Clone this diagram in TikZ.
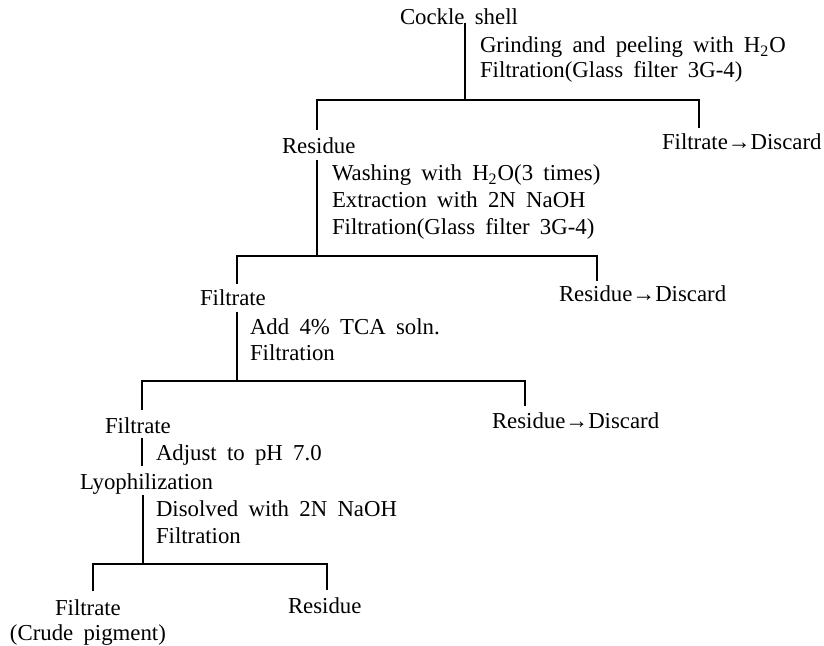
\documentclass[tikz,border=0pt]{standalone}
\usepackage{fontspec}
\setmainfont{Liberation Serif}[WordSpace=1.8]
\begin{document}
\begin{tikzpicture}[x=0.5pt,y=-0.5pt,
  lbl/.style={anchor=base west,inner sep=0pt,outer sep=0pt,font=\fontsize{11.4}{13}\selectfont},
  conn/.style={line width=0.6pt,line cap=butt,line join=miter}]
\useasboundingbox (0,0) rectangle (824,646);
% texts
\node[lbl] (cockle) at (400,25) {Cockle shell};
\node[lbl] (s1a) at (480,53) {Grinding and peeling with H\textsubscript{2}O};
\node[lbl] (s1b) at (480,78) {Filtration(Glass filter 3G-4)};
\node[lbl] (res1) at (282,154) {Residue};
\node[lbl] (fd1) at (662,150) {Filtrate→Discard};
\node[lbl] (s2a) at (332,181) {Washing with H\textsubscript{2}O(3 times)};
\node[lbl] (s2b) at (332,208) {Extraction with 2N NaOH};
\node[lbl] (s2c) at (332,235) {Filtration(Glass filter 3G-4)};
\node[lbl] (fil2) at (200,306) {Filtrate};
\node[lbl] (rd2) at (559,302) {Residue→Discard};
\node[lbl] (s3a) at (250,335) {Add 4\% TCA soln.};
\node[lbl] (s3b) at (250,361) {Filtration};
\node[lbl] (fil3) at (105,433) {Filtrate};
\node[lbl] (rd3) at (492,429) {Residue→Discard};
\node[lbl] (s4a) at (156,460) {Adjust to pH 7.0};
\node[lbl] (lyo) at (80,489) {Lyophilization};
\node[lbl] (s5a) at (156,516) {Disolved with 2N NaOH};
\node[lbl] (s5b) at (156,543) {Filtration};
\node[lbl] (fil4) at (55,615) {Filtrate};
\node[lbl] (crude) at (10,640) {(Crude pigment)};
\node[lbl] (res4) at (288,613) {Residue};
% junction coordinates
\coordinate (a1) at (465,23);  \coordinate (j1) at (465,100);
\coordinate (l1) at (317,100); \coordinate (l1e) at (317,130);
\coordinate (r1) at (699,100); \coordinate (r1e) at (699,128);
\coordinate (a2) at (317,160); \coordinate (j2) at (317,256);
\coordinate (l2) at (237,256); \coordinate (l2e) at (237,284);
\coordinate (r2) at (597,256); \coordinate (r2e) at (597,281);
\coordinate (a3) at (237,312); \coordinate (j3) at (237,381);
\coordinate (l3) at (142,381); \coordinate (l3e) at (142,410);
\coordinate (r3) at (525,381); \coordinate (r3e) at (525,406);
\coordinate (a4) at (142,438); \coordinate (a4e) at (142,466);
\coordinate (a5) at (143,495); \coordinate (j5) at (143,564);
\coordinate (l5) at (93,564);  \coordinate (l5e) at (93,591);
\coordinate (r5) at (327,564); \coordinate (r5e) at (327,590);
% connectors
\draw[conn] (a1) -- (j1);
\draw[conn] (l1e) -- (l1) -- (r1) -- (r1e);
\draw[conn] (a2) -- (j2);
\draw[conn] (l2e) -- (l2) -- (r2) -- (r2e);
\draw[conn] (a3) -- (j3);
\draw[conn] (l3e) -- (l3) -- (r3) -- (r3e);
\draw[conn] (a4) -- (a4e);
\draw[conn] (a5) -- (j5);
\draw[conn] (l5e) -- (l5) -- (r5) -- (r5e);
\end{tikzpicture}
\end{document}
